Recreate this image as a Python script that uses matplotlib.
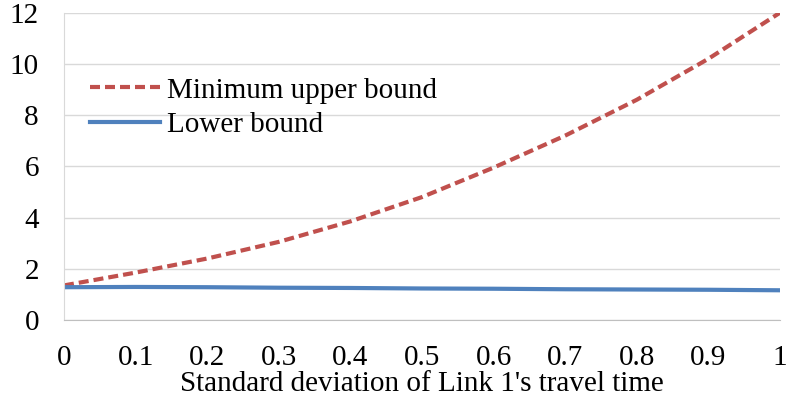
import matplotlib
matplotlib.use("Agg")
import matplotlib.pyplot as plt

# values
sigma = [0, 0.1, 0.2, 0.3, 0.4, 0.5, 0.6, 0.7, 0.8, 0.9, 1.0]
upperBound = [1.35, 1.85, 2.4, 3.05, 3.85, 4.8, 5.95, 7.2, 8.6, 10.2, 12.0]
lowerBound = [1.28, 1.29, 1.28, 1.26, 1.25, 1.23, 1.22, 1.20, 1.19, 1.18, 1.16]
xTicks = [0, 0.1, 0.2, 0.3, 0.4, 0.5, 0.6, 0.7, 0.8, 0.9, 1]
xTickLabels = ["0", "0.1", "0.2", "0.3", "0.4", "0.5", "0.6", "0.7", "0.8", "0.9", "1"]
yTicks = [0, 2, 4, 6, 8, 10, 12]

plt.rcParams['font.family'] = ['Liberation Serif', 'DejaVu Serif']
plt.rcParams['font.size'] = 21

fig = plt.figure(figsize=(7.89, 4.03), dpi=100)
ax = fig.add_axes([0.0811, 0.206, 0.9075, 0.7625])

ax.plot(sigma, upperBound, color='#C0504D', linewidth=3,
        linestyle=(0, (2.4, 1.2)), label='Minimum upper bound')
ax.plot(sigma, lowerBound, color='#4F81BD', linewidth=3,
        label='Lower bound')

ax.set_xlim(0, 1)
ax.set_ylim(0, 12)
ax.set_xticks(xTicks)
ax.set_xticklabels(xTickLabels)
ax.set_yticks(yTicks)
ax.tick_params(axis='both', length=0)
ax.tick_params(axis='y', pad=18)
ax.tick_params(axis='x', pad=18)

ax.grid(axis='y', color='#D9D9D9', linewidth=1)
ax.set_axisbelow(True)
for side in ['top', 'right']:
    ax.spines[side].set_visible(False)
ax.spines['left'].set_color('#D9D9D9')
ax.spines['bottom'].set_color('#BFBFBF')

ax.set_xlabel("Standard deviation of Link 1's travel time", labelpad=0)

ax.legend(loc='upper left', bbox_to_anchor=(0.036, 0.79), frameon=False,
          handlelength=2.4, handletextpad=0.25, labelspacing=0.27,
          borderpad=0, borderaxespad=0)

fig.savefig('out.png', dpi=100)
